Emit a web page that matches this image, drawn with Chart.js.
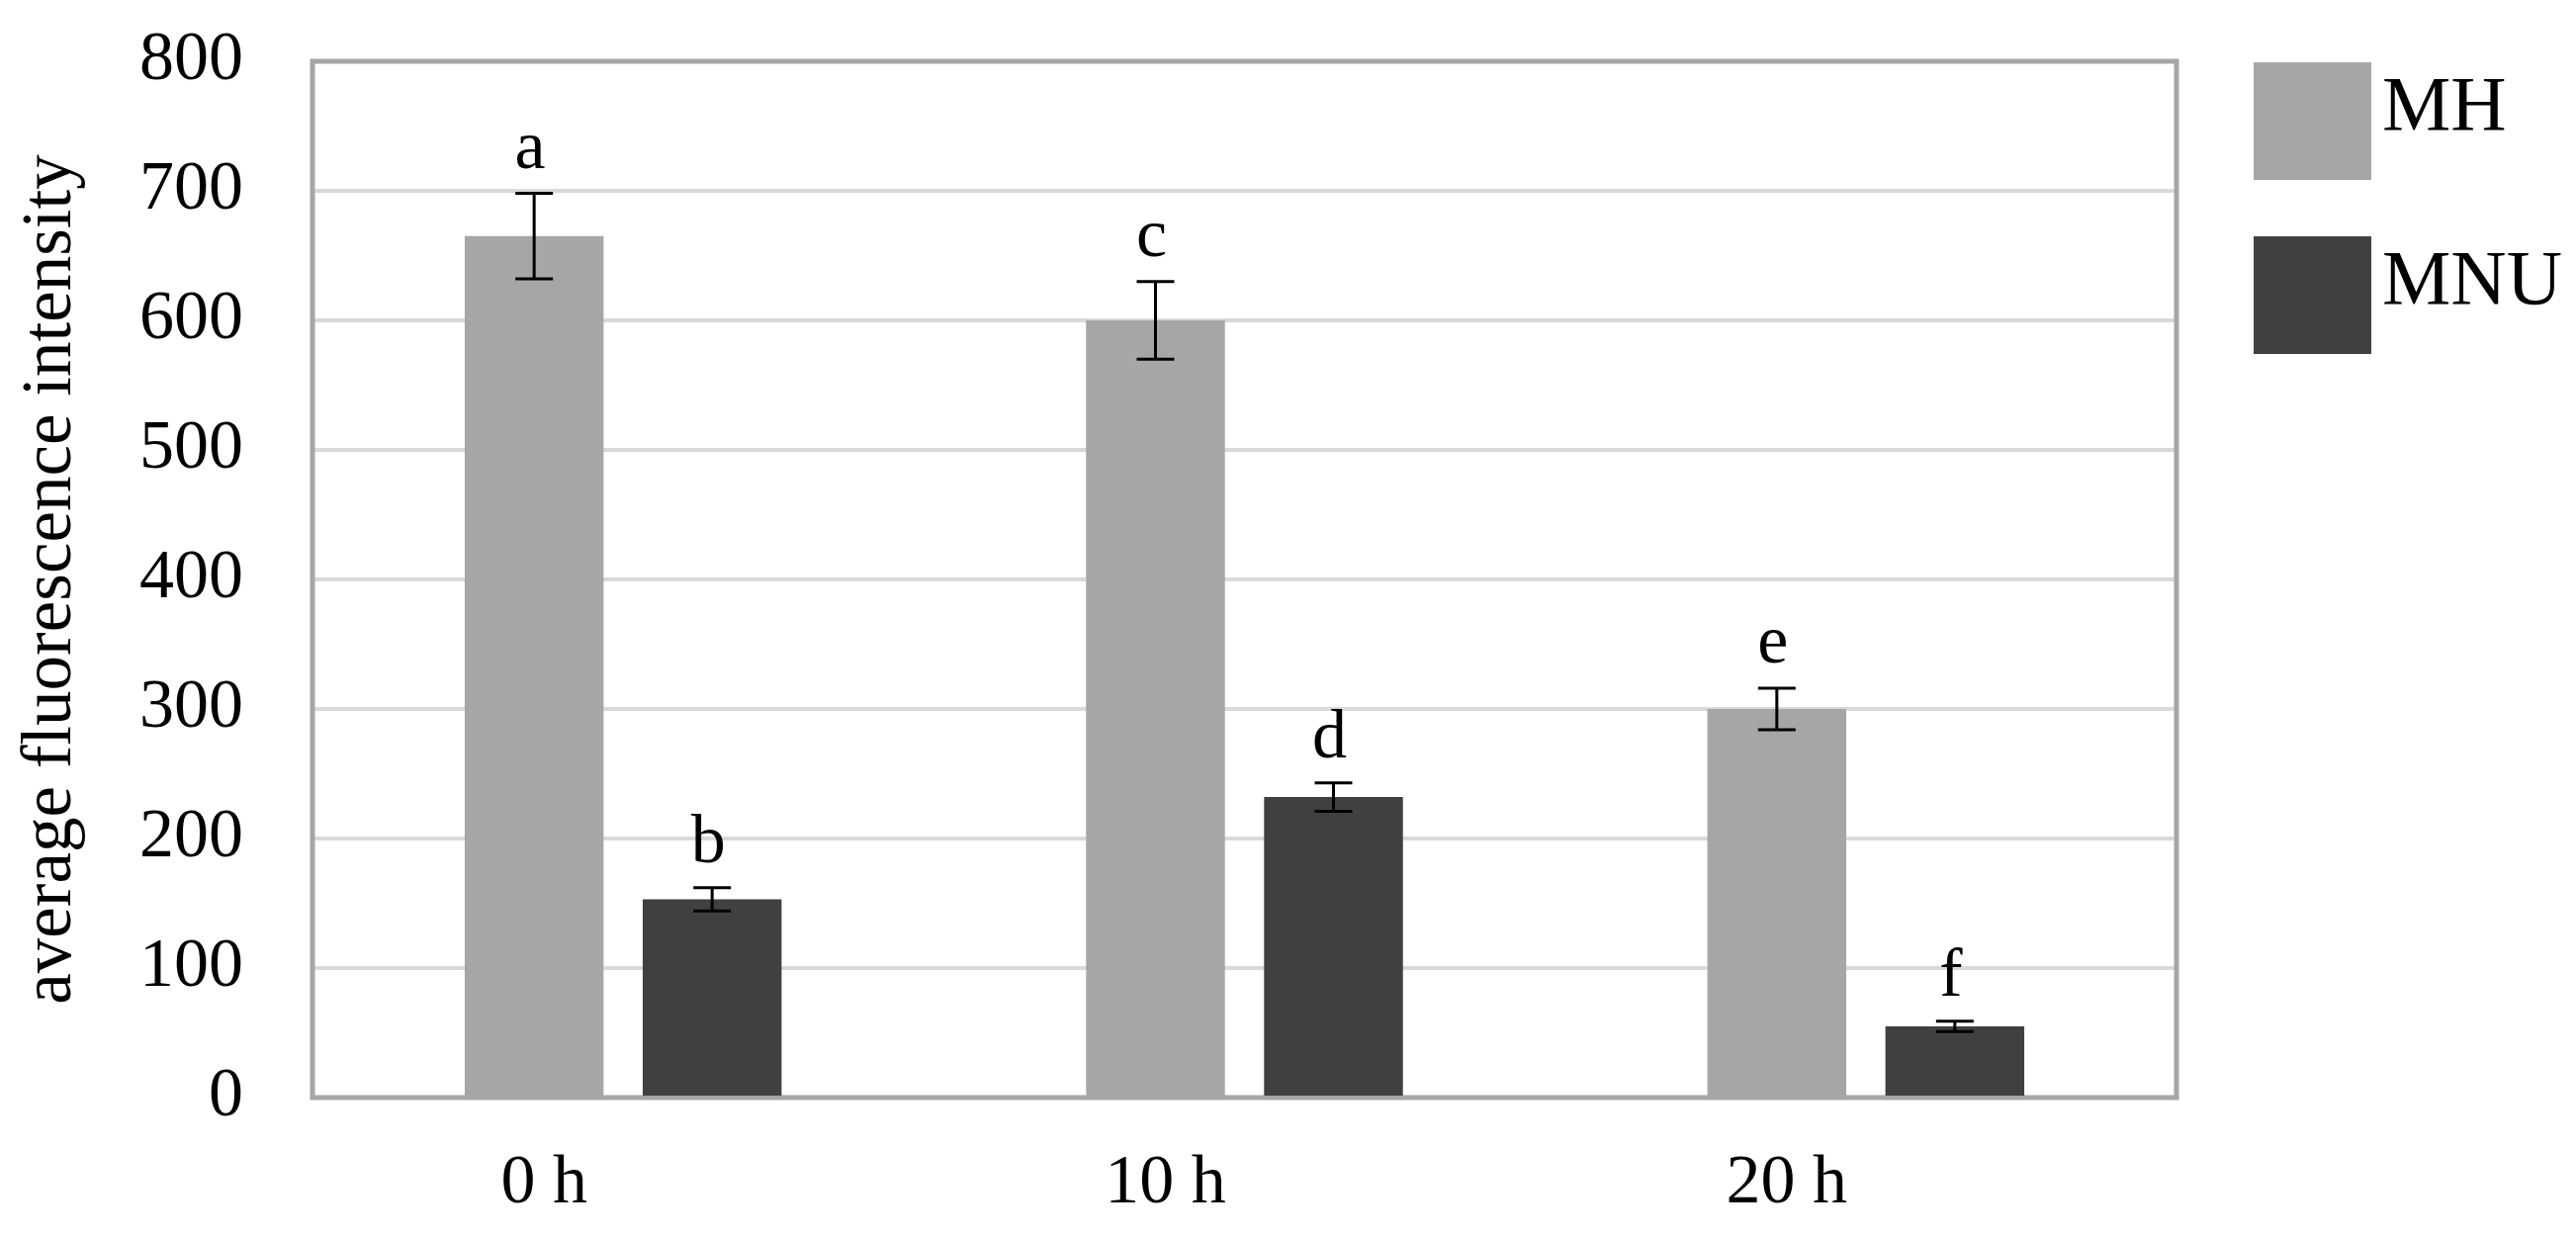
<!DOCTYPE html>
<html>
<head>
<meta charset="utf-8">
<script src="https://cdn.jsdelivr.net/npm/chart.js@4"></script>
<style>
  html, body { margin: 0; padding: 0; background: #ffffff; }
  #wrap { width: 2605px; height: 1251px; }
</style>
</head>
<body>
<div id="wrap"><canvas id="c" width="2605" height="1251"></canvas></div>
<script>
// ---- data ----
const categories = ['0 h', '10 h', '20 h'];
const seriesNames = ['MH', 'MNU'];
const mhValues = [665, 600, 300];
const mnuValues = [153, 232, 55];
const mhErrors = [33, 30, 16];
const mnuErrors = [9, 11, 4];
const mhLetters = ['a', 'c', 'e'];
const mnuLetters = ['b', 'd', 'f'];
const yMin = 0, yMax = 800, yStep = 100;
const yTitle = 'average fluorescence intensity';

const FONT = '"Liberation Serif", "Times New Roman", serif';
const colors = ['#a6a6a6', '#404040'];
const errs = [mhErrors, mnuErrors];
const letters = [mhLetters, mnuLetters];

const framePlugin = {
  id: 'frame',
  beforeDatasetsDraw(chart) {
    const { ctx, chartArea: a } = chart;
    ctx.save();
    ctx.strokeStyle = '#a6a6a6';
    ctx.lineWidth = 5;
    ctx.strokeRect(a.left, a.top, a.right - a.left, a.bottom - a.top);
    ctx.restore();
  }
};

const errorPlugin = {
  id: 'errbars',
  afterDatasetsDraw(chart) {
    const { ctx } = chart;
    const ys = chart.scales.y;
    ctx.save();
    chart.data.datasets.forEach((ds, di) => {
      const meta = chart.getDatasetMeta(di);
      meta.data.forEach((bar, i) => {
        const v = ds.data[i], e = errs[di][i];
        const yt = ys.getPixelForValue(v + e);
        const yb = ys.getPixelForValue(v - e);
        const x = bar.x;
        ctx.strokeStyle = '#000';
        ctx.lineWidth = 3;
        ctx.beginPath();
        ctx.moveTo(x, yt); ctx.lineTo(x, yb);
        ctx.moveTo(x - 19, yt); ctx.lineTo(x + 19, yt);
        ctx.moveTo(x - 19, yb); ctx.lineTo(x + 19, yb);
        ctx.stroke();
        ctx.fillStyle = '#000';
        ctx.font = '70px ' + FONT;
        ctx.textAlign = 'center';
        ctx.textBaseline = 'alphabetic';
        ctx.fillText(letters[di][i], x - 4, yt - 26);
      });
    });
    ctx.restore();
  }
};

const legendPlugin = {
  id: 'customLegend',
  afterDraw(chart) {
    const { ctx, chartArea: a } = chart;
    ctx.save();
    chart.data.datasets.forEach((ds, di) => {
      const bx = a.right + 78;
      const by = a.top + 1 + di * 176;
      ctx.fillStyle = ds.backgroundColor;
      ctx.fillRect(bx, by, 119, 119);
      ctx.fillStyle = '#000';
      ctx.font = '78px ' + FONT;
      ctx.textAlign = 'left';
      ctx.textBaseline = 'alphabetic';
      ctx.fillText(ds.label, bx + 130, by + 68);
    });
    ctx.restore();
  }
};

new Chart(document.getElementById('c'), {
  type: 'bar',
  data: {
    labels: categories,
    datasets: [
      { label: seriesNames[0], data: mhValues, backgroundColor: colors[0] },
      { label: seriesNames[1], data: mnuValues, backgroundColor: colors[1] }
    ]
  },
  options: {
    responsive: false,
    animation: false,
    devicePixelRatio: 1,
    layout: { padding: { top: 62, right: 404, bottom: 0, left: 0 } },
    plugins: { legend: { display: false }, tooltip: { enabled: false } },
    datasets: { bar: { categoryPercentage: 0.573, barPercentage: 0.78 } },
    scales: {
      x: {
        grid: { display: false, drawTicks: false },
        border: { display: false },
        ticks: {
          color: '#000',
          font: { family: FONT, size: 70 },
          padding: 46,
          labelOffset: -80,
          maxRotation: 0
        },
        afterFit(scale) { scale.height = 141; }
      },
      y: {
        min: yMin, max: yMax,
        grid: { color: '#d9d9d9', lineWidth: 4, drawTicks: true, tickLength: 67, tickColor: 'rgba(0,0,0,0)' },
        border: { display: false },
        ticks: {
          stepSize: yStep,
          color: '#000',
          font: { family: FONT, size: 70 },
          padding: 3
        },
        title: {
          display: true,
          text: yTitle,
          color: '#000',
          font: { family: FONT, size: 71 },
          padding: { top: 10, bottom: 0 }
        },
        afterFit(scale) { scale.width = 316; }
      }
    }
  },
  plugins: [framePlugin, errorPlugin, legendPlugin]
});
</script>
</body>
</html>
